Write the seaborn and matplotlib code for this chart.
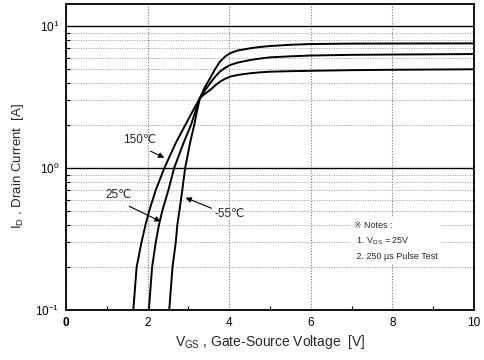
import numpy as np
import pandas as pd
import matplotlib
matplotlib.use("Agg")
import matplotlib.pyplot as plt
from matplotlib.ticker import LogLocator, MultipleLocator, NullFormatter
import seaborn as sns

# -------------------------
# Data
# -------------------------
temps = ["150℃", "25℃", "-55℃"]

vgs_150 = [1.65, 1.73, 1.85, 1.95, 2.04, 2.20, 2.41, 2.69, 2.92, 3.10, 3.28, 3.40, 3.53, 3.65, 3.77,
           3.90, 4.02, 4.20, 4.51, 4.75, 5.0, 5.5, 6.0, 7.0, 8.0, 10.0]
id_150 = [0.10, 0.20, 0.30, 0.40, 0.50, 0.70, 1.00, 1.50, 2.00, 2.50, 3.10, 3.33, 3.54, 3.80, 4.05,
          4.25, 4.40, 4.52, 4.65, 4.72, 4.77, 4.81, 4.84, 4.89, 4.92, 4.96]

vgs_25 = [2.03, 2.11, 2.20, 2.28, 2.36, 2.51, 2.65, 2.88, 3.06, 3.17, 3.28, 3.40, 3.53, 3.65, 3.77,
          3.90, 4.02, 4.20, 4.51, 4.75, 5.0, 5.5, 6.0, 7.0, 8.0, 10.0]
id_25 = [0.10, 0.20, 0.30, 0.40, 0.50, 0.70, 1.00, 1.50, 2.00, 2.50, 3.10, 3.50, 3.95, 4.38, 4.77,
         5.08, 5.31, 5.52, 5.76, 5.90, 6.02, 6.12, 6.20, 6.27, 6.30, 6.35]

vgs_m55 = [2.53, 2.61, 2.69, 2.73, 2.78, 2.85, 2.92, 3.04, 3.14, 3.21, 3.28, 3.40, 3.53, 3.65, 3.77,
           3.90, 4.02, 4.20, 4.51, 4.75, 5.0, 5.5, 6.0, 7.0, 8.0, 10.0]
id_m55 = [0.10, 0.20, 0.30, 0.40, 0.50, 0.70, 1.00, 1.50, 2.00, 2.50, 3.10, 3.70, 4.28, 4.95, 5.60,
          6.10, 6.43, 6.72, 6.97, 7.12, 7.23, 7.38, 7.47, 7.52, 7.53, 7.55]

x_ticks = [0, 2, 4, 6, 8, 10]

# -------------------------
# Build table
# -------------------------
df = pd.concat([
    pd.DataFrame({"vgs": vgs_150, "id": id_150, "temp": temps[0]}),
    pd.DataFrame({"vgs": vgs_25, "id": id_25, "temp": temps[1]}),
    pd.DataFrame({"vgs": vgs_m55, "id": id_m55, "temp": temps[2]}),
], ignore_index=True)

# -------------------------
# Plot
# -------------------------
sns.set_style("ticks")
plt.rcParams["font.family"] = ["Liberation Sans", "DejaVu Sans", "Noto Sans CJK JP"]
plt.rcParams["mathtext.fontset"] = "custom"
plt.rcParams["mathtext.rm"] = "Liberation Sans"
plt.rcParams["mathtext.it"] = "Liberation Sans:italic"
plt.rcParams["mathtext.default"] = "regular"

fig = plt.figure(figsize=(4.84, 3.6), dpi=100)
ax = fig.add_axes([0.1364, 0.1389, 0.8429, 0.85])

sns.lineplot(data=df, x="vgs", y="id", hue="temp", units="temp", estimator=None,
             sort=False, palette=["black"] * 3, linewidth=1.4, legend=False, ax=ax)

ax.set_yscale("log")
ax.set_xlim(0, 10)
ax.set_ylim(0.1, 14.3)

ax.set_xticks(x_ticks)
ax.set_xticklabels([str(t) for t in x_ticks])
ax.get_xticklabels()[0].set_fontweight("bold")
ax.xaxis.set_minor_locator(MultipleLocator(1))
ax.yaxis.set_major_locator(LogLocator(base=10, numticks=5))
ax.yaxis.set_minor_locator(LogLocator(base=10, subs=np.arange(2, 10), numticks=20))
ax.yaxis.set_minor_formatter(NullFormatter())

ax.tick_params(which="both", direction="in", labelsize=8.5, colors="black")
ax.tick_params(which="major", length=0, pad=5)
ax.tick_params(which="minor", length=3, width=0.8)

# grid: decades solid, minors dotted
ax.yaxis.grid(True, which="major", color="black", linestyle="-", linewidth=1.0)
ax.yaxis.grid(True, which="minor", color="#999999", linestyle=(0, (1, 1.5)), linewidth=0.7)
ax.xaxis.grid(True, which="major", color="#777777", linestyle=(0, (1, 1.5)), linewidth=0.8)
ax.set_axisbelow(True)

for s in ax.spines.values():
    s.set_color("black")
    s.set_linewidth(1.3)

ax.set_xlabel("V$_{GS}$ , Gate-Source Voltage  [V]", fontsize=10, labelpad=3)
ax.set_ylabel("I$_{D}$ , Drain Current  [A]", fontsize=9.5)
ax.yaxis.set_label_coords(-0.098, 0.47)

# curve labels with arrows
arrow = dict(arrowstyle="-|>", color="black", lw=0.8, mutation_scale=8)
ax.text(1.81, 1.57, "150℃", fontsize=8.5, ha="center", va="center")
ax.annotate("", xy=(2.47, 1.16), xytext=(2.01, 1.34), arrowprops=arrow)
ax.text(1.30, 0.645, "25℃", fontsize=8.5, ha="center", va="center")
ax.annotate("", xy=(2.38, 0.412), xytext=(1.49, 0.548), arrowprops=arrow)
ax.text(4.02, 0.474, "-55℃", fontsize=8.5, ha="center", va="center")
ax.annotate("", xy=(2.87, 0.628), xytext=(3.63, 0.512), arrowprops=arrow)

# notes
ax.text(7.05, 0.305, "※ Notes :\n 1. V$_{DS}$ = 25V\n 2. 250 µs Pulse Test",
        fontsize=6.5, ha="left", va="center", linespacing=1.7,
        bbox=dict(facecolor="white", edgecolor="none", pad=2))

fig.savefig("out.png", dpi=100)
plt.close(fig)
